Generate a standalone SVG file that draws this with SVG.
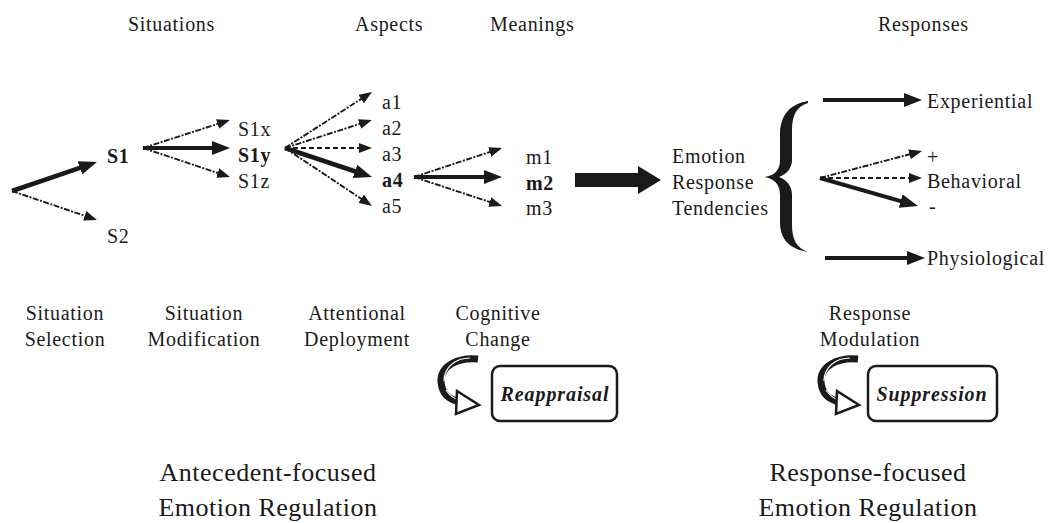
<svg xmlns="http://www.w3.org/2000/svg" width="1049" height="523" viewBox="0 0 1049 523">
<style>
text{font-family:"Liberation Serif","Times New Roman",serif;fill:#1a1a1a;font-size:20px;letter-spacing:0.7px}
.b{font-weight:bold}
.c{text-anchor:middle}
.big{font-size:26px;letter-spacing:0.5px}
.bi{font-weight:bold;font-style:italic;letter-spacing:0.9px}
.thin{stroke:#1a1a1a;stroke-width:1.9;fill:none;stroke-dasharray:6 1.5 2 1.5;marker-end:url(#ah)}
.dash{stroke:#1a1a1a;stroke-width:1.9;fill:none;stroke-dasharray:5 3;marker-end:url(#ah)}
.thick{stroke:#1a1a1a;stroke-width:4.5;fill:none;marker-end:url(#ahb)}
.box{fill:#fff;stroke:#1a1a1a;stroke-width:2.5}
.band{fill:none;stroke:#1a1a1a;stroke-width:7;stroke-linecap:butt}
.streak{fill:none;stroke:#fff;stroke-width:1.2}
.head{fill:#fff;stroke:#1a1a1a;stroke-width:2.5;stroke-linejoin:miter}
</style>
<defs>
<marker id="ah" markerUnits="userSpaceOnUse" viewBox="0 0 13 10" markerWidth="13" markerHeight="10" refX="10" refY="5" orient="auto"><path d="M0,0 L13,5 L0,10 z" fill="#1a1a1a"/></marker>
<marker id="ahb" markerUnits="userSpaceOnUse" viewBox="0 0 18 14" markerWidth="18" markerHeight="14" refX="10" refY="7" orient="auto"><path d="M0,0 L18,7 L0,14 z" fill="#1a1a1a"/></marker>
</defs>
<rect width="1049" height="523" fill="#fff"/>

<g id="headers">
<text x="128" y="31">Situations</text>
<text x="355" y="31">Aspects</text>
<text x="490" y="31">Meanings</text>
<text x="878" y="31">Responses</text>
</g>

<g id="connectors">
<line class="thick" x1="12" y1="191" x2="89.4" y2="164.6"/>
<line class="thin" x1="12" y1="191" x2="94.2" y2="219"/>
<line class="thin" x1="143" y1="148" x2="227.1" y2="120.9"/>
<line class="thick" x1="143" y1="148" x2="222" y2="148" style="stroke-width:4"/>
<line class="thin" x1="143" y1="148" x2="227.2" y2="176.1"/>
<line class="thin" x1="285" y1="148" x2="369.5" y2="93.6"/>
<line class="thin" x1="285" y1="148" x2="369.1" y2="120.9"/>
<line class="dash" x1="285" y1="148" x2="369" y2="148"/>
<line class="thick" x1="285" y1="148" x2="364.4" y2="174.5"/>
<line class="thin" x1="285" y1="148" x2="369.5" y2="204.3"/>
<line class="thin" x1="414" y1="177" x2="499.2" y2="148.9"/>
<line class="thick" x1="414" y1="177" x2="494" y2="177" style="stroke-width:4"/>
<line class="thin" x1="414" y1="177" x2="499.2" y2="205.1"/>
<polygon points="575,173 638,173 638,166 661,180 638,194 638,187 575,187" fill="#1a1a1a"/>
<line class="thick" x1="823" y1="100" x2="914" y2="100" style="stroke-width:4"/>
<line class="thin" x1="820" y1="178" x2="919.1" y2="151.8"/>
<line class="dash" x1="820" y1="178" x2="919" y2="178"/>
<line class="thick" x1="820" y1="178" x2="910.3" y2="203.8" style="stroke-width:4"/>
<line class="thick" x1="825" y1="258" x2="917" y2="258" style="stroke-width:4"/>
</g>

<g id="brace">
<path d="M808,101 C790,104 780,115 780,135 L780,160 C780,170 775,175 765,177 C775,179 780,185 780,195 L780,222 C780,240 790,249 808,252 C797,248 792,240 792,225 L792,195 C792,186 787,180 779,177 C787,174 792,168 792,160 L792,130 C792,115 797,106 808,103 Z" fill="#1a1a1a"/>
</g>

<g id="node-S1"><text class="b" x="107" y="163">S1</text></g>
<g id="node-S2"><text x="107" y="243">S2</text></g>
<g id="node-S1x"><text x="238" y="136">S1x</text></g>
<g id="node-S1y"><text class="b" x="238" y="162">S1y</text></g>
<g id="node-S1z"><text x="238" y="188">S1z</text></g>
<g id="node-a1"><text x="382" y="109">a1</text></g>
<g id="node-a2"><text x="382" y="135">a2</text></g>
<g id="node-a3"><text x="382" y="161">a3</text></g>
<g id="node-a4"><text class="b" x="382" y="187">a4</text></g>
<g id="node-a5"><text x="382" y="213">a5</text></g>
<g id="node-m1"><text x="526" y="164">m1</text></g>
<g id="node-m2"><text class="b" x="526" y="190">m2</text></g>
<g id="node-m3"><text x="526" y="215">m3</text></g>
<g id="node-ert">
<text x="672" y="163">Emotion</text>
<text x="672" y="189">Response</text>
<text x="672" y="215">Tendencies</text>
</g>
<g id="node-experiential"><text x="927" y="108">Experiential</text></g>
<g id="node-behavioral">
<text x="927" y="164">+</text>
<text x="927" y="188">Behavioral</text>
<text x="929" y="213">-</text>
</g>
<g id="node-physiological"><text x="927" y="265">Physiological</text></g>

<g id="labels">
<text class="c" x="65" y="320">Situation</text>
<text class="c" x="65" y="346">Selection</text>
<text class="c" x="204" y="320">Situation</text>
<text class="c" x="204" y="346">Modification</text>
<text class="c" x="357" y="320">Attentional</text>
<text class="c" x="357" y="346">Deployment</text>
<text class="c" x="498" y="320">Cognitive</text>
<text class="c" x="498" y="346">Change</text>
<text class="c" x="870" y="320">Response</text>
<text class="c" x="870" y="346">Modulation</text>
</g>

<g id="node-reappraisal">
<path class="band" d="M478,359 C458,357 440,366 441,382 C442,394 450,400 460,402"/>
<path class="streak" d="M470,358 C456,358 444,367 444,381"/>
<path class="streak" d="M446,390 C450,396 455,399 459,400"/>
<polygon class="head" points="457,391 479,405 456,414"/>
<rect class="box" x="492" y="366" width="125" height="55" rx="8"/>
<text class="bi c" x="555" y="401">Reappraisal</text>
</g>

<g id="node-suppression">
<path class="band" d="M858,359 C838,357 820,366 821,382 C822,394 830,400 840,402"/>
<path class="streak" d="M850,358 C836,358 824,367 824,381"/>
<path class="streak" d="M826,390 C830,396 835,399 839,400"/>
<polygon class="head" points="837,391 859,405 836,414"/>
<rect class="box" x="868" y="366" width="129" height="55" rx="8"/>
<text class="bi c" x="932" y="401">Suppression</text>
</g>

<g id="footer">
<text class="big c" x="268" y="481">Antecedent-focused</text>
<text class="big c" x="268" y="516">Emotion Regulation</text>
<text class="big c" x="868" y="481">Response-focused</text>
<text class="big c" x="868" y="516">Emotion Regulation</text>
</g>
</svg>
